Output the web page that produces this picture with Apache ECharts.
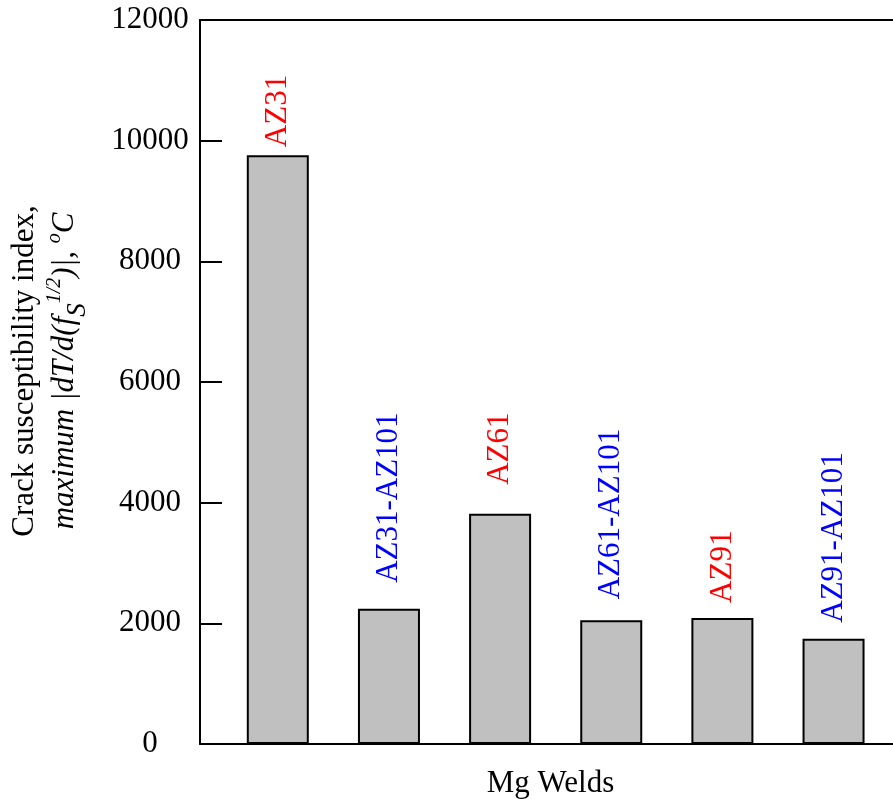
<!DOCTYPE html>
<html>
<head>
<meta charset="utf-8">
<script src="https://cdn.jsdelivr.net/npm/echarts@6/dist/echarts.min.js"></script>
<style>
html,body{margin:0;padding:0;background:#fff;}
#c{width:893px;height:799px;}
</style>
</head>
<body>
<div id="c"></div>
<script>
const categories = ['AZ31', 'AZ31-AZ101', 'AZ61', 'AZ61-AZ101', 'AZ91', 'AZ91-AZ101'];
const crackIndex = [9760, 2240, 3815, 2050, 2090, 1745];
const yTicks = [0, 2000, 4000, 6000, 8000, 10000, 12000];

// styling
const labelColors = ['#ff0000', '#0000ff', '#ff0000', '#0000ff', '#ff0000', '#0000ff'];
const labelGaps = [8, 26, 29, 21, 15, 16];
const FONT = 'Liberation Serif';

const chart = echarts.init(document.getElementById('c'), null, {renderer: 'canvas'});

const barData = categories.map((c, i) => ({
  value: [i + 1, crackIndex[i]],
  label: {
    show: true,
    position: 'top',
    rotate: 90,
    align: 'left',
    verticalAlign: 'middle',
    distance: labelGaps[i],
    color: labelColors[i],
    fontFamily: FONT,
    fontSize: 31,
    formatter: c
  }
}));

const option = {
  backgroundColor: '#ffffff',
  animation: false,
  grid: {left: 200, top: 20, right: 0, bottom: 55, containLabel: false, outerBoundsMode: 'none'},
  xAxis: [
    {
      type: 'value', min: 0.3, max: 6.535, position: 'bottom',
      name: 'Mg Welds', nameLocation: 'middle', nameGap: 24,
      nameTextStyle: {fontFamily: FONT, fontSize: 31, color: '#000', padding: [0, 0, 0, 8]},
      axisLine: {show: true, onZero: false, lineStyle: {color: '#000', width: 2}},
      axisTick: {show: false}, axisLabel: {show: false}, splitLine: {show: false}
    },
    {
      type: 'value', min: 0.3, max: 6.535, position: 'top',
      axisLine: {show: true, onZero: false, lineStyle: {color: '#000', width: 2}},
      axisTick: {show: false}, axisLabel: {show: false}, splitLine: {show: false}
    }
  ],
  yAxis: {
    type: 'value', min: yTicks[0], max: yTicks[yTicks.length - 1], interval: 2000,
    axisLine: {show: true, lineStyle: {color: '#000', width: 2}},
    axisTick: {show: true, inside: true, length: 22, lineStyle: {color: '#000', width: 2}},
    axisLabel: {margin: 50, align: 'center', fontFamily: FONT, fontSize: 31, color: '#000', formatter: v => String(v)},
    splitLine: {show: false},
    name: '{n|Crack susceptibility index,}\n{i|maximum |dT/d(f}{s|S}{p|1/2}{i|)|, }{p|o}{i|C}',
    nameLocation: 'middle',
    nameGap: 115,
    nameTextStyle: {
      color: '#000',
      fontFamily: FONT,
      fontSize: 31,
      padding: [0, 0, 0, 22],
      rich: {
        n: {fontFamily: FONT, fontSize: 31, lineHeight: 40, color: '#000'},
        i: {fontFamily: FONT, fontSize: 31, fontStyle: 'italic', lineHeight: 40, color: '#000'},
        s: {fontFamily: FONT, fontSize: 27, fontStyle: 'italic', lineHeight: 40, verticalAlign: 'bottom', padding: [0, 0, -6, 0], color: '#000'},
        p: {fontFamily: FONT, fontSize: 20, fontStyle: 'italic', lineHeight: 40, verticalAlign: 'top', color: '#000'}
      }
    }
  },
  series: [{
    type: 'bar',
    xAxisIndex: 0,
    barWidth: 62,
    data: barData,
    itemStyle: {color: '#c0c0c0', borderColor: '#000', borderWidth: 2},
    emphasis: {disabled: true}
  }]
};
chart.setOption(option);
</script>
</body>
</html>
